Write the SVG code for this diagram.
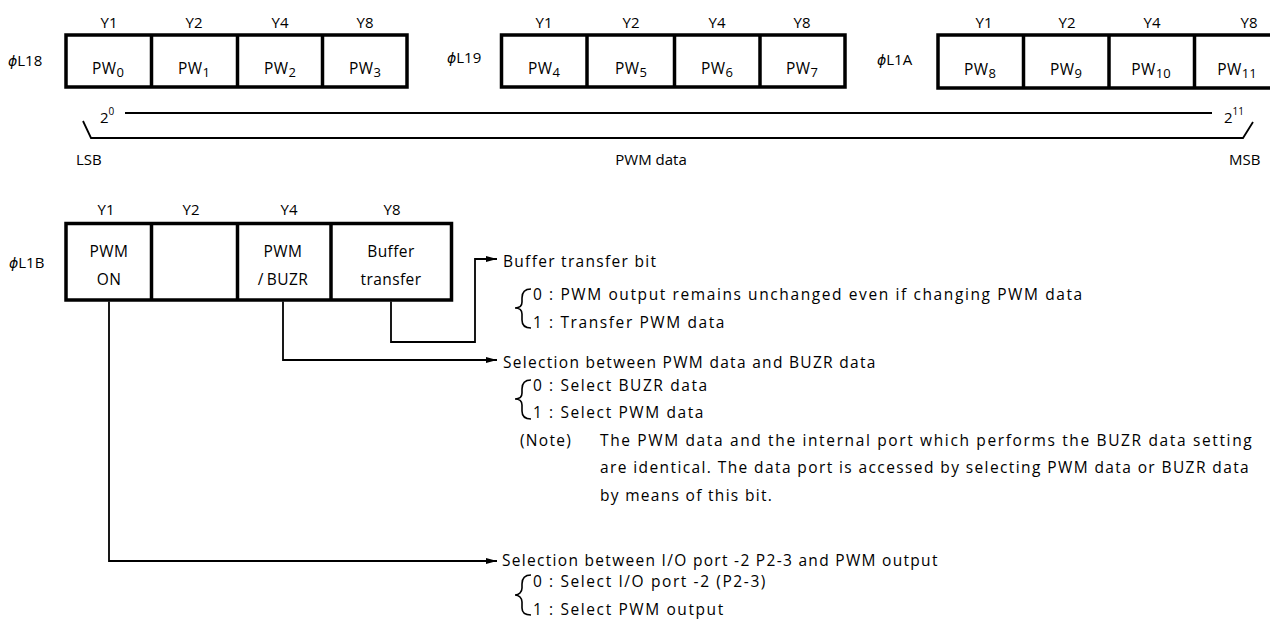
<svg xmlns="http://www.w3.org/2000/svg" width="1270" height="637" viewBox="0 0 1270 637">
<style>
text{font-family:"Open Sans","DejaVu Sans",sans-serif;fill:#000}
.lbl{font-size:15px}
.phi{font-family:"DejaVu Sans",sans-serif;font-style:italic;font-size:14px}
.cell{font-size:15.5px;text-anchor:middle;letter-spacing:0.4px}
.sub{font-size:13px;letter-spacing:0}
.d{font-size:15.5px;letter-spacing:1.3px}
.s{font-size:15.5px;letter-spacing:1.6px}
.box{fill:#fff;stroke:#000;stroke-width:3.5}
.div{stroke:#000;stroke-width:3.5}
.ln{fill:none;stroke:#000;stroke-width:1.8}
.br{fill:none;stroke:#000;stroke-width:1.6}
.ct{text-anchor:middle}
</style>
<defs>
<marker id="ah" markerUnits="userSpaceOnUse" markerWidth="12" markerHeight="8" refX="11" refY="3" orient="auto">
<path d="M0,0 L11,3 L0,6 z" fill="#000"/>
</marker>
</defs>

<g id="reg-L18">
<text class="lbl" x="8" y="66"><tspan class="phi">ϕ</tspan>L18</text>
<text class="lbl ct" x="109" y="28">Y1</text>
<text class="lbl ct" x="194" y="28">Y2</text>
<text class="lbl ct" x="280" y="28">Y4</text>
<text class="lbl ct" x="365" y="28">Y8</text>
<rect class="box" x="66" y="35" width="341" height="52"/>
<line class="div" x1="151.5" y1="35" x2="151.5" y2="87"/>
<line class="div" x1="237.5" y1="35" x2="237.5" y2="87"/>
<line class="div" x1="322.5" y1="35" x2="322.5" y2="87"/>
<text class="cell" x="108" y="74">PW<tspan class="sub" dy="3">0</tspan></text>
<text class="cell" x="194" y="74">PW<tspan class="sub" dy="3">1</tspan></text>
<text class="cell" x="280" y="74">PW<tspan class="sub" dy="3">2</tspan></text>
<text class="cell" x="365" y="74">PW<tspan class="sub" dy="3">3</tspan></text>
</g>

<g id="reg-L19">
<text class="lbl" x="447" y="63"><tspan class="phi">ϕ</tspan>L19</text>
<text class="lbl ct" x="544" y="28">Y1</text>
<text class="lbl ct" x="631" y="28">Y2</text>
<text class="lbl ct" x="717" y="28">Y4</text>
<text class="lbl ct" x="802" y="28">Y8</text>
<rect class="box" x="501.5" y="35" width="343.5" height="52"/>
<line class="div" x1="587" y1="35" x2="587" y2="87"/>
<line class="div" x1="674.5" y1="35" x2="674.5" y2="87"/>
<line class="div" x1="760" y1="35" x2="760" y2="87"/>
<text class="cell" x="544" y="74">PW<tspan class="sub" dy="3">4</tspan></text>
<text class="cell" x="631" y="74">PW<tspan class="sub" dy="3">5</tspan></text>
<text class="cell" x="717" y="74">PW<tspan class="sub" dy="3">6</tspan></text>
<text class="cell" x="802" y="74">PW<tspan class="sub" dy="3">7</tspan></text>
</g>

<g id="reg-L1A">
<text class="lbl" x="877" y="65"><tspan class="phi">ϕ</tspan>L1A</text>
<text class="lbl ct" x="984" y="28">Y1</text>
<text class="lbl ct" x="1067" y="28">Y2</text>
<text class="lbl ct" x="1152" y="28">Y4</text>
<text class="lbl ct" x="1249" y="28">Y8</text>
<rect class="box" x="938" y="35" width="342" height="53"/>
<line class="div" x1="1023.5" y1="35" x2="1023.5" y2="88"/>
<line class="div" x1="1109" y1="35" x2="1109" y2="88"/>
<line class="div" x1="1194.5" y1="35" x2="1194.5" y2="88"/>
<text class="cell" x="980" y="75">PW<tspan class="sub" dy="3">8</tspan></text>
<text class="cell" x="1066" y="75">PW<tspan class="sub" dy="3">9</tspan></text>
<text class="cell" x="1151" y="75">PW<tspan class="sub" dy="3">10</tspan></text>
<text class="cell" x="1237" y="75">PW<tspan class="sub" dy="3">11</tspan></text>
</g>

<g id="pwm-range">
<text class="lbl" x="100" y="123">2<tspan font-size="10" dy="-8">0</tspan></text>
<line class="ln" x1="125" y1="113" x2="1212" y2="113"/>
<text class="lbl" x="1224" y="123">2<tspan font-size="10" dy="-8">11</tspan></text>
<path class="ln" d="M83,121 L91,138 H1243 L1253,122"/>
<text class="lbl" x="76" y="165">LSB</text>
<text class="lbl ct" x="651" y="165">PWM data</text>
<text class="lbl" x="1229" y="165">MSB</text>
</g>

<g id="reg-L1B">
<text class="lbl" x="9" y="268"><tspan class="phi">ϕ</tspan>L1B</text>
<text class="lbl ct" x="106" y="215">Y1</text>
<text class="lbl ct" x="191" y="215">Y2</text>
<text class="lbl ct" x="289" y="215">Y4</text>
<text class="lbl ct" x="392" y="215">Y8</text>
<rect class="box" x="66" y="223.5" width="385.5" height="76.5"/>
<line class="div" x1="151.5" y1="223.5" x2="151.5" y2="300"/>
<line class="div" x1="237.5" y1="223.5" x2="237.5" y2="300"/>
<line class="div" x1="331" y1="223.5" x2="331" y2="300"/>
<text class="cell" x="109" y="257">PWM</text>
<text class="cell" x="109" y="285">ON</text>
<text class="cell" x="283" y="257">PWM</text>
<text class="cell" x="283" y="285">/<tspan dx="3">BUZR</tspan></text>
<text class="cell" x="391" y="257">Buffer</text>
<text class="cell" x="391" y="285">transfer</text>
</g>

<g id="connectors">
<path class="ln" d="M391,301.5 V342 H475 V259 H497" marker-end="url(#ah)"/>
<path class="ln" d="M283,301.5 V360 H497" marker-end="url(#ah)"/>
<path class="ln" d="M109,301.5 V561 H497" marker-end="url(#ah)"/>
</g>

<g id="desc-buffer">
<text class="d" x="503" y="267">Buffer transfer bit</text>
<path class="br" d="M531,289 C525,289 522,292 522,298 L522,302 C522,306 519,308 515,308 C519,308 522,310 522,314 L522,320 C522,325 525,328 531,328"/>
<text class="s" x="533" y="300">0 : PWM output remains unchanged even if changing PWM data</text>
<text class="s" x="533" y="328">1 : Transfer PWM data</text>
</g>

<g id="desc-sel">
<text class="d" x="503" y="368">Selection between PWM data and BUZR data</text>
<path class="br" d="M531,380 C525,380 522,383 522,389 L522,393 C522,397 519,399 515,399 C519,399 522,401 522,405 L522,411 C522,416 525,419 531,419"/>
<text class="s" x="533" y="391">0 : Select BUZR data</text>
<text class="s" x="533" y="418">1 : Select PWM data</text>
<text class="d" x="520" y="446">(Note)</text>
<text class="d" x="600" y="446" textLength="653" lengthAdjust="spacing">The PWM data and the internal port which performs the BUZR data setting</text>
<text class="d" x="600" y="473" textLength="650" lengthAdjust="spacing">are identical. The data port is accessed by selecting PWM data or BUZR data</text>
<text class="d" x="600" y="501">by means of this bit.</text>
</g>

<g id="desc-io">
<text class="d" x="502" y="566">Selection between I/O port -2 P2-3 and PWM output</text>
<path class="br" d="M531,575 C525,575 522,578 522,584 L522,588 C522,592 519,595 515,595 C519,595 522,598 522,602 L522,608 C522,613 525,615 531,615"/>
<text class="s" x="533" y="587">0 : Select I/O port -2 (P2-3)</text>
<text class="s" x="533" y="615">1 : Select PWM output</text>
</g>
</svg>
